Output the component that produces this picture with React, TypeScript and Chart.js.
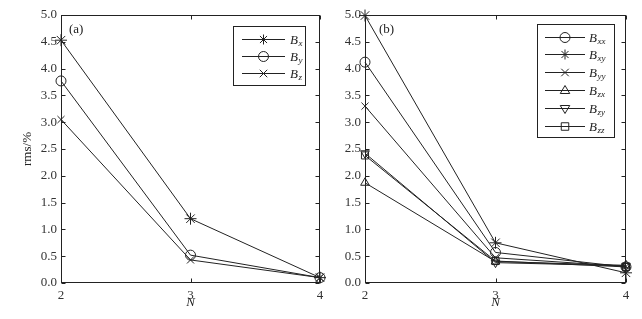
import React, { useEffect, useRef } from 'react';
import { Chart, registerables } from 'chart.js';

Chart.register(...registerables);

// ---- data ----
const N_VALUES = [2, 3, 4];
const Y_TICK_STEP = 0.5;

// panel (a)
const A_BX = [4.53, 1.2, 0.1];
const A_BY = [3.77, 0.52, 0.1];
const A_BZ = [3.05, 0.43, 0.1];

// panel (b)
const B_BXX = [4.12, 0.57, 0.3];
const B_BXY = [4.99, 0.75, 0.19];
const B_BYY = [3.3, 0.47, 0.31];
const B_BZX = [1.87, 0.4, 0.33];
const B_BZY = [2.42, 0.38, 0.32];
const B_BZZ = [2.38, 0.41, 0.3];

const FONT = '"Liberation Serif", "Times New Roman", serif';
const INK = '#222';

type Marker = 'star' | 'circle' | 'cross' | 'triUp' | 'triDown' | 'square';

interface Series {
  sub: string;
  values: number[];
  marker: Marker;
}

const SERIES_A: Series[] = [
  { sub: 'x', values: A_BX, marker: 'star' },
  { sub: 'y', values: A_BY, marker: 'circle' },
  { sub: 'z', values: A_BZ, marker: 'cross' },
];

const SERIES_B: Series[] = [
  { sub: 'xx', values: B_BXX, marker: 'circle' },
  { sub: 'xy', values: B_BXY, marker: 'star' },
  { sub: 'yy', values: B_BYY, marker: 'cross' },
  { sub: 'zx', values: B_BZX, marker: 'triUp' },
  { sub: 'zy', values: B_BZY, marker: 'triDown' },
  { sub: 'zz', values: B_BZZ, marker: 'square' },
];

function pointStyleOf(m: Marker): any {
  switch (m) {
    case 'star': return 'star';
    case 'circle': return 'circle';
    case 'cross': return 'crossRot';
    case 'triUp': return 'triangle';
    case 'triDown': return 'triangle';
    case 'square': return 'rect';
  }
}

function drawMarker(ctx: CanvasRenderingContext2D, m: Marker, x: number, y: number, r: number) {
  ctx.beginPath();
  switch (m) {
    case 'star':
      for (let i = 0; i < 4; i++) {
        const a = (i * Math.PI) / 4;
        ctx.moveTo(x - r * Math.cos(a), y - r * Math.sin(a));
        ctx.lineTo(x + r * Math.cos(a), y + r * Math.sin(a));
      }
      break;
    case 'circle':
      ctx.arc(x, y, r, 0, Math.PI * 2);
      break;
    case 'cross': {
      const d = r * 0.75;
      ctx.moveTo(x - d, y - d); ctx.lineTo(x + d, y + d);
      ctx.moveTo(x - d, y + d); ctx.lineTo(x + d, y - d);
      break;
    }
    case 'triUp':
      ctx.moveTo(x, y - r);
      ctx.lineTo(x + r * 0.95, y + r * 0.6);
      ctx.lineTo(x - r * 0.95, y + r * 0.6);
      ctx.closePath();
      break;
    case 'triDown':
      ctx.moveTo(x, y + r);
      ctx.lineTo(x + r * 0.95, y - r * 0.6);
      ctx.lineTo(x - r * 0.95, y - r * 0.6);
      ctx.closePath();
      break;
    case 'square': {
      const d = r * 0.75;
      ctx.rect(x - d, y - d, 2 * d, 2 * d);
      break;
    }
  }
  ctx.stroke();
}

interface PanelOpts {
  label: string;
  labelX: number;
  labelY: number;
  legend: { x0: number; x1: number; y0: number; y1: number; lineX0: number; lineX1: number; textX: number; rowY0: number; rowStep: number };
  series: Series[];
  yTitle: boolean;
}

function framePlugin(opts: PanelOpts) {
  return {
    id: 'frame',
    afterDraw(chart: any) {
      const ctx: CanvasRenderingContext2D = chart.ctx;
      const { left, right, top, bottom } = chart.chartArea;
      const xs = chart.scales.x;
      const ys = chart.scales.y;
      const L = Math.round(left) + 0.5;
      const R = Math.round(right) - 0.5;
      const T = Math.round(top) + 0.5;
      const B = Math.round(bottom) - 0.5;
      ctx.save();
      ctx.strokeStyle = INK;
      ctx.lineWidth = 1;
      ctx.strokeRect(L, T, R - L, B - T);
      // inward ticks
      ctx.beginPath();
      ys.ticks.forEach((t: any) => {
        const py = Math.round(ys.getPixelForValue(t.value)) + 0.5;
        ctx.moveTo(L, py); ctx.lineTo(L + 4, py);
        ctx.moveTo(R, py); ctx.lineTo(R - 4, py);
      });
      xs.ticks.forEach((t: any) => {
        const px = Math.round(xs.getPixelForValue(t.value)) + 0.5;
        ctx.moveTo(px, B); ctx.lineTo(px, B - 4);
        ctx.moveTo(px, T); ctx.lineTo(px, T + 4);
      });
      ctx.stroke();

      // panel label
      ctx.fillStyle = INK;
      ctx.font = `13px ${FONT}`;
      ctx.textAlign = 'left';
      ctx.textBaseline = 'middle';
      ctx.fillText(opts.label, opts.labelX, opts.labelY);

      // x title
      ctx.font = `italic 13px ${FONT}`;
      ctx.textAlign = 'center';
      ctx.textBaseline = 'middle';
      ctx.fillText('N', xs.getPixelForValue(3), bottom + 20);

      // y title
      if (opts.yTitle) {
        ctx.save();
        ctx.translate(28, (top + bottom) / 2);
        ctx.rotate(-Math.PI / 2);
        ctx.font = `13px ${FONT}`;
        ctx.textAlign = 'center';
        ctx.textBaseline = 'middle';
        ctx.fillText('rms/%', 0, 0);
        ctx.restore();
      }

      // legend
      const lg = opts.legend;
      ctx.fillStyle = '#fff';
      ctx.fillRect(lg.x0, lg.y0, lg.x1 - lg.x0, lg.y1 - lg.y0);
      ctx.strokeStyle = INK;
      ctx.strokeRect(lg.x0 + 0.5, lg.y0 + 0.5, lg.x1 - lg.x0, lg.y1 - lg.y0);
      opts.series.forEach((s, i) => {
        const y = Math.round(lg.rowY0 + i * lg.rowStep) + 0.5;
        ctx.beginPath();
        ctx.moveTo(lg.lineX0, y);
        ctx.lineTo(lg.lineX1, y);
        ctx.stroke();
        drawMarker(ctx, s.marker, (lg.lineX0 + lg.lineX1) / 2, y, 5);
        ctx.fillStyle = INK;
        ctx.font = `italic 13px ${FONT}`;
        ctx.textAlign = 'left';
        ctx.textBaseline = 'alphabetic';
        ctx.fillText('B', lg.textX, y + 4);
        const w = ctx.measureText('B').width;
        ctx.font = `italic 9px ${FONT}`;
        ctx.fillText(s.sub, lg.textX + w + 0.5, y + 6);
      });
      ctx.restore();
    },
  };
}

function makeConfig(opts: PanelOpts, yWidth: number, padRight: number): any {
  return {
    type: 'line',
    data: {
      datasets: opts.series.map((s) => ({
        label: 'B' + s.sub,
        data: N_VALUES.map((n, i) => ({ x: n, y: s.values[i] })),
        borderColor: INK,
        borderWidth: 1,
        backgroundColor: 'rgba(0,0,0,0)',
        pointBorderColor: INK,
        pointBackgroundColor: 'rgba(0,0,0,0)',
        pointBorderWidth: 1,
        pointStyle: pointStyleOf(s.marker),
        pointRotation: s.marker === 'triDown' ? 180 : 0,
        pointRadius: s.marker === 'star' ? 6 : 5,
        tension: 0,
        clip: false,
        fill: false,
      })),
    },
    options: {
      animation: false,
      responsive: false,
      devicePixelRatio: 1,
      layout: { padding: { left: 0, right: padRight, top: 15, bottom: 0 } },
      plugins: { legend: { display: false }, tooltip: { enabled: false } },
      scales: {
        x: {
          type: 'linear',
          min: 2,
          max: 4,
          grid: { display: false, drawTicks: false },
          border: { display: false },
          ticks: {
            stepSize: 1,
            padding: 5,
            color: '#333',
            font: { family: FONT, size: 13 },
            callback: (v: number) => String(v),
          },
          afterFit: (s: any) => { s.height = 36; },
        },
        y: {
          type: 'linear',
          min: 0,
          max: 5,
          grid: { display: false, drawTicks: false },
          border: { display: false },
          ticks: {
            stepSize: Y_TICK_STEP,
            padding: 4,
            color: '#333',
            font: { family: FONT, size: 13 },
            callback: (v: number) => v.toFixed(1),
          },
          afterFit: (s: any) => { s.width = yWidth; },
        },
      },
    },
    plugins: [framePlugin(opts)],
  };
}

const A_LEFT = 0, A_WIDTH = 330;
const B_LEFT = 330, B_WIDTH = 312;
const H = 319;

export default function App() {
  const refA = useRef<HTMLCanvasElement>(null);
  const refB = useRef<HTMLCanvasElement>(null);

  useEffect(() => {
    const optsA: PanelOpts = {
      label: '(a)',
      labelX: 69,
      labelY: 30,
      legend: { x0: 233, x1: 305, y0: 26, y1: 85, lineX0: 242, lineX1: 285, textX: 290, rowY0: 39, rowStep: 17.2 },
      series: SERIES_A,
      yTitle: true,
    };
    const optsB: PanelOpts = {
      label: '(b)',
      labelX: 379 - B_LEFT,
      labelY: 30,
      legend: { x0: 537 - B_LEFT, x1: 614 - B_LEFT, y0: 24, y1: 137, lineX0: 545 - B_LEFT, lineX1: 585 - B_LEFT, textX: 589 - B_LEFT, rowY0: 36.5, rowStep: 17.9 },
      series: SERIES_B,
      yTitle: false,
    };
    const a = new Chart(refA.current!, makeConfig(optsA, 61, A_WIDTH - 320));
    const b = new Chart(refB.current!, makeConfig(optsB, 365 - B_LEFT, B_LEFT + B_WIDTH - 626));
    return () => { a.destroy(); b.destroy(); };
  }, []);

  return (
    <div style={{ position: 'absolute', left: 0, top: 0, width: 642, height: H, background: '#fff' }}>
      <canvas ref={refA} width={A_WIDTH} height={H} style={{ position: 'absolute', left: A_LEFT, top: 0, width: A_WIDTH, height: H }} />
      <canvas ref={refB} width={B_WIDTH} height={H} style={{ position: 'absolute', left: B_LEFT, top: 0, width: B_WIDTH, height: H }} />
    </div>
  );
}
